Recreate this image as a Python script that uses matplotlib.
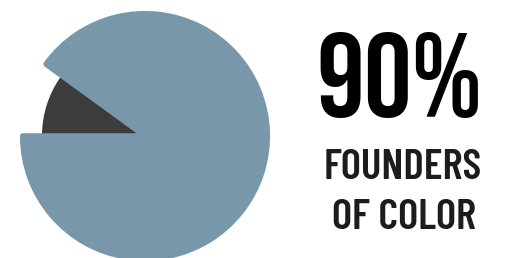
import matplotlib
matplotlib.use("Agg")
import matplotlib.pyplot as plt

# share of founders
labels = ["Founders of color", "Other founders"]
shares = [90, 10]
colors = ["#7897ab", "#3c3c3c"]
small_radius = 0.82   # the "other" slice is drawn shorter

headline = "90%"
caption = ["FOUNDERS", "OF COLOR"]

fig = plt.figure(figsize=(5.2, 2.58), dpi=100)
fig.patch.set_facecolor("white")

# pie axes: centre ~ (145, 136) px, radius ~ 125 px
ax = fig.add_axes([20 / 520, -3 / 258, 250 / 520, 250 / 258])
lw = 4.0  # points, round joins give the soft corners
wedges, _ = ax.pie(shares, colors=colors, startangle=180, counterclock=True,
                   wedgeprops=dict(linewidth=lw, joinstyle="round"))
for w, c in zip(wedges, colors):
    w.set_edgecolor(c)
wedges[1].set_radius(small_radius)
wedges[1].set_zorder(1)
wedges[0].set_zorder(2)
pad = 1 + (lw / 72 * 100 / 2) / 125
ax.set_xlim(-pad, pad)
ax.set_ylim(-pad, pad)
ax.set_aspect("equal")
ax.axis("off")

fig.text(399 / 520, 1 - 117 / 258, headline, family="Bebas Neue", fontsize=86,
         ha="center", va="baseline", color="#000000")
for txt, xc, yb in zip(caption, [403, 404], [179, 229]):
    fig.text(xc / 520, 1 - yb / 258, txt, family="Barlow Condensed", fontsize=31,
             weight="semibold", ha="center", va="baseline", color="#1c1c1c")

fig.savefig("out.png", dpi=100, facecolor="white")
